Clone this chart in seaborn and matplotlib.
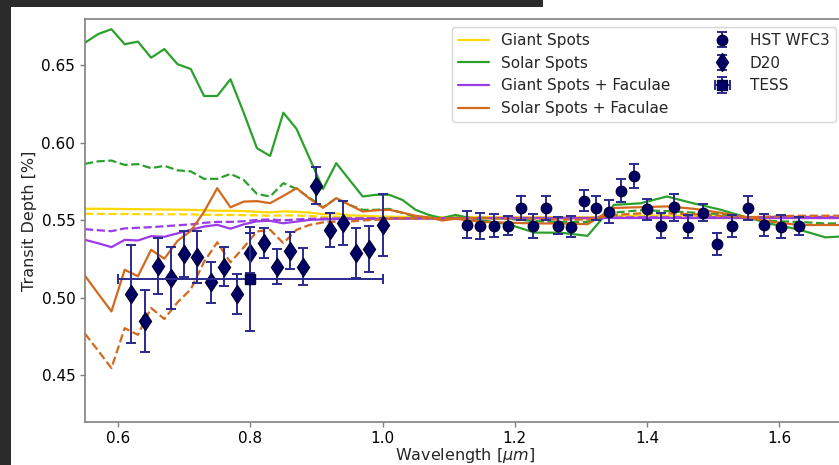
import matplotlib
matplotlib.use("Agg")
import numpy as np
import pandas as pd
import matplotlib.pyplot as plt
import seaborn as sns
from matplotlib.patches import Rectangle

# ---------------- data ----------------
model_wl = [0.55, 0.57, 0.59, 0.61, 0.63, 0.65, 0.67, 0.69, 0.71, 0.73,
            0.75, 0.77, 0.79, 0.81, 0.83, 0.85, 0.87, 0.89, 0.91, 0.93,
            0.95, 0.97, 0.99, 1.01, 1.03, 1.05, 1.07, 1.09, 1.11,
            1.15, 1.19, 1.23, 1.27, 1.31, 1.35, 1.39, 1.43, 1.47, 1.51,
            1.55, 1.59, 1.63, 1.67, 1.71, 1.75]

giant_spots = [0.5575, 0.5575, 0.5574, 0.5573, 0.5572, 0.5571, 0.5570, 0.5569, 0.5568, 0.5565,
               0.5562, 0.5562, 0.5560, 0.5555, 0.5552, 0.5558, 0.5555, 0.5550, 0.5540, 0.5545,
               0.5532, 0.5530, 0.5526, 0.5524, 0.5522, 0.5521, 0.5520, 0.5520, 0.5520,
               0.5520, 0.5520, 0.5520, 0.5520, 0.5520, 0.5528, 0.5530, 0.5530, 0.5528, 0.5525,
               0.5522, 0.5522, 0.5522, 0.5522, 0.5522, 0.5522]
giant_spots_b = [0.5542, 0.5542, 0.5541, 0.5541, 0.5540, 0.5540, 0.5539, 0.5539, 0.5538, 0.5536,
                 0.5535, 0.5535, 0.5534, 0.5532, 0.5530, 0.5532, 0.5531, 0.5528, 0.5522, 0.5524,
                 0.5519, 0.5518, 0.5516, 0.5515, 0.5514, 0.5514, 0.5513, 0.5513, 0.5513,
                 0.5513, 0.5513, 0.5513, 0.5513, 0.5513, 0.5518, 0.5518, 0.5518, 0.5518, 0.5516,
                 0.5515, 0.5515, 0.5515, 0.5515, 0.5515, 0.5515]
solar_spots = [0.6647, 0.6703, 0.6734, 0.6637, 0.6654, 0.6550, 0.6606, 0.6508, 0.6477, 0.6303,
               0.6303, 0.6411, 0.6195, 0.5966, 0.5916, 0.6195, 0.6090, 0.5897, 0.5703, 0.5869,
               0.5761, 0.5654, 0.5665, 0.5665, 0.5632, 0.5568, 0.5535, 0.5514, 0.5535,
               0.5500, 0.5475, 0.5421, 0.5420, 0.5400, 0.5600, 0.5610, 0.5654, 0.5610, 0.5570,
               0.5520, 0.5475, 0.5440, 0.5390, 0.5400, 0.5400]
solar_spots_b = [0.5865, 0.5881, 0.5886, 0.5858, 0.5863, 0.5837, 0.5852, 0.5823, 0.5816, 0.5768,
                 0.5768, 0.5800, 0.5761, 0.5671, 0.5654, 0.5740, 0.5703, 0.5645, 0.5584, 0.5643,
                 0.5600, 0.5568, 0.5568, 0.5574, 0.5548, 0.5523, 0.5516, 0.5510, 0.5516,
                 0.5516, 0.5510, 0.5495, 0.5490, 0.5490, 0.5550, 0.5565, 0.5560, 0.5550, 0.5540,
                 0.5520, 0.5495, 0.5490, 0.5480, 0.5480, 0.5480]
giant_fac = [0.5374, 0.5352, 0.5327, 0.5374, 0.5370, 0.5398, 0.5394, 0.5416, 0.5439, 0.5460,
             0.5471, 0.5446, 0.5474, 0.5494, 0.5497, 0.5481, 0.5492, 0.5503, 0.5506, 0.5508,
             0.5509, 0.5510, 0.5510, 0.5511, 0.5511, 0.5512, 0.5512, 0.5512, 0.5512,
             0.5515, 0.5515, 0.5515, 0.5515, 0.5515, 0.5515, 0.5515, 0.5515, 0.5515, 0.5515,
             0.5515, 0.5515, 0.5515, 0.5515, 0.5515, 0.5515]
giant_fac_b = [0.5443, 0.5436, 0.5430, 0.5448, 0.5452, 0.5456, 0.5462, 0.5468, 0.5474, 0.5484,
               0.5490, 0.5490, 0.5494, 0.5503, 0.5506, 0.5500, 0.5506, 0.5510, 0.5511, 0.5512,
               0.5513, 0.5513, 0.5513, 0.5513, 0.5513, 0.5513, 0.5513, 0.5513, 0.5513,
               0.5515, 0.5515, 0.5515, 0.5515, 0.5515, 0.5518, 0.5520, 0.5520, 0.5520, 0.5520,
               0.5520, 0.5522, 0.5522, 0.5522, 0.5522, 0.5522]
solar_fac = [0.5142, 0.5026, 0.4912, 0.5181, 0.5139, 0.5310, 0.5252, 0.5368, 0.5432, 0.5555,
             0.5708, 0.5584, 0.5621, 0.5624, 0.5611, 0.5658, 0.5708, 0.5639, 0.5581, 0.5643,
             0.5600, 0.5557, 0.5565, 0.5568, 0.5550, 0.5529, 0.5519, 0.5499, 0.5510,
             0.5490, 0.5485, 0.5480, 0.5480, 0.5475, 0.5580, 0.5585, 0.5590, 0.5575, 0.5550,
             0.5520, 0.5490, 0.5470, 0.5470, 0.5470, 0.5470]
solar_fac_b = [0.4768, 0.4658, 0.4546, 0.4804, 0.4761, 0.4934, 0.4863, 0.4971, 0.5055, 0.5232,
               0.5358, 0.5229, 0.5326, 0.5428, 0.5439, 0.5353, 0.5439, 0.5471, 0.5487, 0.5492,
               0.5492, 0.5500, 0.5503, 0.5510, 0.5513, 0.5513, 0.5513, 0.5513, 0.5513,
               0.5515, 0.5510, 0.5510, 0.5505, 0.5505, 0.5535, 0.5545, 0.5545, 0.5540, 0.5530,
               0.5520, 0.5525, 0.5530, 0.5530, 0.5530, 0.5530]

hst_wl = [1.128, 1.148, 1.169, 1.189, 1.209, 1.228, 1.247, 1.266, 1.285, 1.305,
          1.323, 1.343, 1.361, 1.381, 1.400, 1.421, 1.441, 1.462, 1.484, 1.506,
          1.529, 1.552, 1.577, 1.603, 1.630]
hst_depth = [0.5471, 0.5466, 0.5466, 0.5466, 0.5579, 0.5466, 0.5579, 0.5466, 0.5460, 0.5628,
             0.5579, 0.5557, 0.5692, 0.5784, 0.5572, 0.5465, 0.5583, 0.5460, 0.5550, 0.5348,
             0.5465, 0.5579, 0.5471, 0.5460, 0.5465]
hst_err = [0.0088, 0.0084, 0.0072, 0.0060, 0.0078, 0.0077, 0.0079, 0.0056, 0.0067, 0.0070,
           0.0079, 0.0077, 0.0076, 0.0077, 0.0067, 0.0080, 0.0090, 0.0075, 0.0057, 0.0073,
           0.0072, 0.0075, 0.0073, 0.0075, 0.0057]

d20_wl = [0.62, 0.64, 0.66, 0.68, 0.70, 0.72, 0.74, 0.76, 0.78, 0.80,
          0.82, 0.84, 0.86, 0.88, 0.90, 0.92, 0.94, 0.96, 0.98, 1.00]
d20_depth = [0.5024, 0.4852, 0.5206, 0.5127, 0.5282, 0.5262, 0.5099, 0.5202, 0.5024, 0.5290,
             0.5353, 0.5202, 0.5305, 0.5202, 0.5723, 0.5439, 0.5482, 0.5288, 0.5314, 0.5471]
d20_err = [0.0317, 0.0200, 0.0183, 0.0199, 0.0150, 0.0169, 0.0130, 0.0129, 0.0131, 0.0130,
           0.0099, 0.0110, 0.0120, 0.0120, 0.0120, 0.0110, 0.0140, 0.0160, 0.0150, 0.0200]

tess_wl = [0.80]
tess_depth = [0.5121]
tess_err = [0.0335]
tess_xerr = [0.20]

model_names = ["Giant Spots", "Solar Spots", "Giant Spots + Faculae", "Solar Spots + Faculae"]
model_colors = ["gold", "#2ca02c", "#9b3be8", "#d2691e"]
model_solid = [giant_spots, solar_spots, giant_fac, solar_fac]
model_dashed = [giant_spots_b, solar_spots_b, giant_fac_b, solar_fac_b]

# ---------------- figure ----------------
sns.set_style("white")
plt.rcParams["font.family"] = ["DejaVu Sans"]
plt.rcParams["mathtext.fontset"] = "dejavusans"

W, H = 839, 465
fig = plt.figure(figsize=(W / 100, H / 100), dpi=100)
fig.patch.set_facecolor("white")
ax_l, ax_r, ax_t, ax_b = 85, 845.4, 19, 421.7
ax = fig.add_axes([ax_l / W, (H - ax_b) / H, (ax_r - ax_l) / W, (ax_b - ax_t) / H])

# screenshot dark borders
fig.patches.append(Rectangle((0, 0), 11 / W, 1, transform=fig.transFigure,
                             facecolor="#2b2b2b", edgecolor="none", zorder=-1))
fig.patches.append(Rectangle((0, 1 - 7 / H), 543 / W, 7 / H, transform=fig.transFigure,
                             facecolor="#2b2b2b", edgecolor="none", zorder=-1))

handles = []
for name, col, ys, yd in zip(model_names, model_colors, model_solid, model_dashed):
    df_s = pd.DataFrame({"wl": model_wl, "depth": ys})
    df_d = pd.DataFrame({"wl": model_wl, "depth": yd})
    sns.lineplot(data=df_d, x="wl", y="depth", ax=ax, color=col, lw=1.6,
                 linestyle=(0, (3.7, 1.6)), estimator=None, sort=False, legend=False)
    sns.lineplot(data=df_s, x="wl", y="depth", ax=ax, color=col, lw=1.6,
                 estimator=None, sort=False, legend=False)
    handles.append(ax.lines[-1])

mcol = "#000066"
ecol = "#2a2a8c"
eb_hst = ax.errorbar(hst_wl, hst_depth, yerr=hst_err, fmt="o", ms=7.5, color=mcol,
                     mec="#00003a", ecolor=ecol, elinewidth=1.4, capsize=3.5,
                     capthick=1.4, zorder=5, label="HST WFC3")
eb_d20 = ax.errorbar(d20_wl, d20_depth, yerr=d20_err, fmt="d", ms=9.5, color=mcol,
                     mec="#00003a", ecolor=ecol, elinewidth=1.4, capsize=3.5,
                     capthick=1.4, zorder=5, label="D20")
eb_tess = ax.errorbar(tess_wl, tess_depth, yerr=tess_err, xerr=tess_xerr, fmt="s", ms=7.5,
                      color=mcol, mec="#00003a", ecolor=ecol, elinewidth=1.4, capsize=3.5,
                      capthick=1.4, zorder=6, label="TESS")

ax.set_xlim(0.55, 1.70)
ax.set_ylim(0.42, 0.68)
ax.set_xticks([0.6, 0.8, 1.0, 1.2, 1.4, 1.6])
ax.set_xticklabels(["0.6", "0.8", "1.0", "1.2", "1.4", "1.6"])
ax.set_yticks([0.45, 0.50, 0.55, 0.60, 0.65])
ax.set_yticklabels(["0.45", "0.50", "0.55", "0.60", "0.65"])
ax.tick_params(axis="both", labelsize=11, direction="out", length=3.5, width=1,
               color="0.5", labelcolor="black", bottom=True, left=True)
for s in ax.spines.values():
    s.set_color("0.5")
    s.set_linewidth(1.2)
ax.set_xlabel(r"Wavelength [$\mu m$]", fontsize=11.5, labelpad=0)
ax.set_ylabel("Transit Depth [%]", fontsize=11.5, labelpad=3)

leg = ax.legend(handles + [eb_hst, eb_d20, eb_tess],
                model_names + ["HST WFC3", "D20", "TESS"],
                ncol=2, fontsize=11, loc="upper left",
                bbox_to_anchor=(452 / W, 1 - 27 / H), bbox_transform=fig.transFigure,
                borderaxespad=0, labelspacing=0.5, columnspacing=2.4,
                handlelength=2.0, handletextpad=0.8, frameon=True,
                framealpha=0.8, edgecolor="0.8", fancybox=True)

fig.savefig("out.png", dpi=100)
